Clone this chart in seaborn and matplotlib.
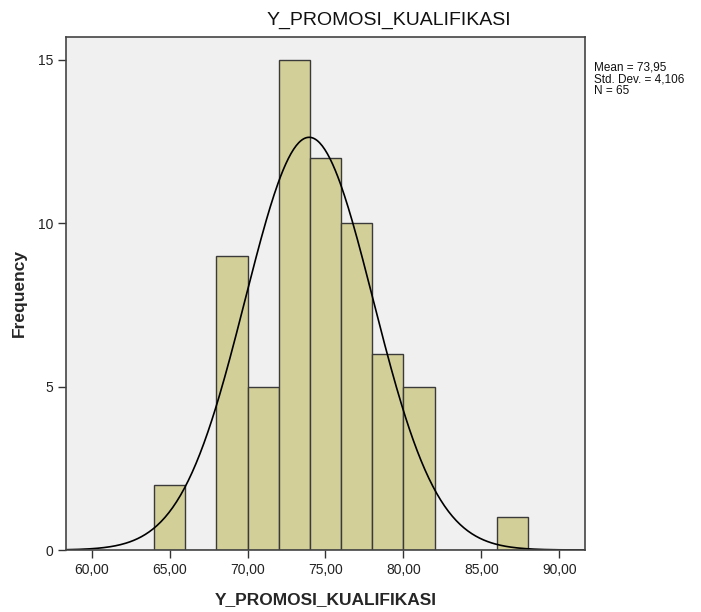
import numpy as np
import pandas as pd
import matplotlib
matplotlib.use("Agg")
import matplotlib.pyplot as plt
import seaborn as sns

# ---- data ----
bin_edges = [64, 66, 68, 70, 72, 74, 76, 78, 80, 82, 84, 86, 88]
counts = [2, 0, 9, 5, 15, 12, 10, 6, 5, 0, 0, 1]
mean_val = 73.95
std_val = 4.106
n_val = 65
x_ticks = [60, 65, 70, 75, 80, 85, 90]
x_tick_labels = ["60,00", "65,00", "70,00", "75,00", "80,00", "85,00", "90,00"]
y_ticks = [0, 5, 10, 15]
title = "Y_PROMOSI_KUALIFIKASI"
xlabel = "Y_PROMOSI_KUALIFIKASI"
ylabel = "Frequency"
stats_lines = ["Mean = 73,95", "Std. Dev. = 4,106", "N = 65"]

sns.set_style("white")
plt.rcParams["font.family"] = ["Liberation Sans", "DejaVu Sans"]

fig = plt.figure(figsize=(7.01, 6.12), dpi=100)
ax = fig.add_axes([66 / 701, 62 / 612, (585 - 66) / 701, (550 - 36.7) / 612])
ax.set_facecolor("#F0F0F0")

centers = [(a + b) / 2 for a, b in zip(bin_edges[:-1], bin_edges[1:])]
df = pd.DataFrame({"value": centers, "count": counts})
sns.histplot(data=df, x="value", weights="count", bins=bin_edges, ax=ax,
             color="#D3CF98", alpha=1.0, edgecolor="#3A3A3A", linewidth=1.0)

xlim = (58.35, 91.65)
grid = np.linspace(xlim[0], xlim[1], 400)
binw = bin_edges[1] - bin_edges[0]
dens = n_val * binw / (std_val * np.sqrt(2 * np.pi)) * np.exp(-0.5 * ((grid - mean_val) / std_val) ** 2)
sns.lineplot(x=grid, y=dens, ax=ax, color="black", linewidth=1.2)

ax.set_xlim(*xlim)
ax.set_ylim(0, 15.71)
ax.set_xticks(x_ticks)
ax.set_xticklabels(x_tick_labels)
ax.set_yticks(y_ticks)
ax.tick_params(axis="both", direction="out", length=6, width=1, color="#333333",
               labelsize=10, labelcolor="#222222", pad=3, bottom=True, left=True)
for s in ax.spines.values():
    s.set_color("#444444")
    s.set_linewidth(1.2)

ax.set_xlabel(xlabel, fontsize=12.5, fontweight="bold", labelpad=11)
ax.set_ylabel(ylabel, fontsize=12.5, fontweight="bold", labelpad=8)

fig.text(389 / 701, 1 - 20 / 612, title, fontsize=14, ha="center", va="center", color="#111111")
fig.text(594 / 701, 1 - 62 / 612, "\n".join(stats_lines),
         fontsize=8.5, ha="left", va="top", linespacing=0.95, color="#111111")

fig.savefig("out.png", dpi=100)
